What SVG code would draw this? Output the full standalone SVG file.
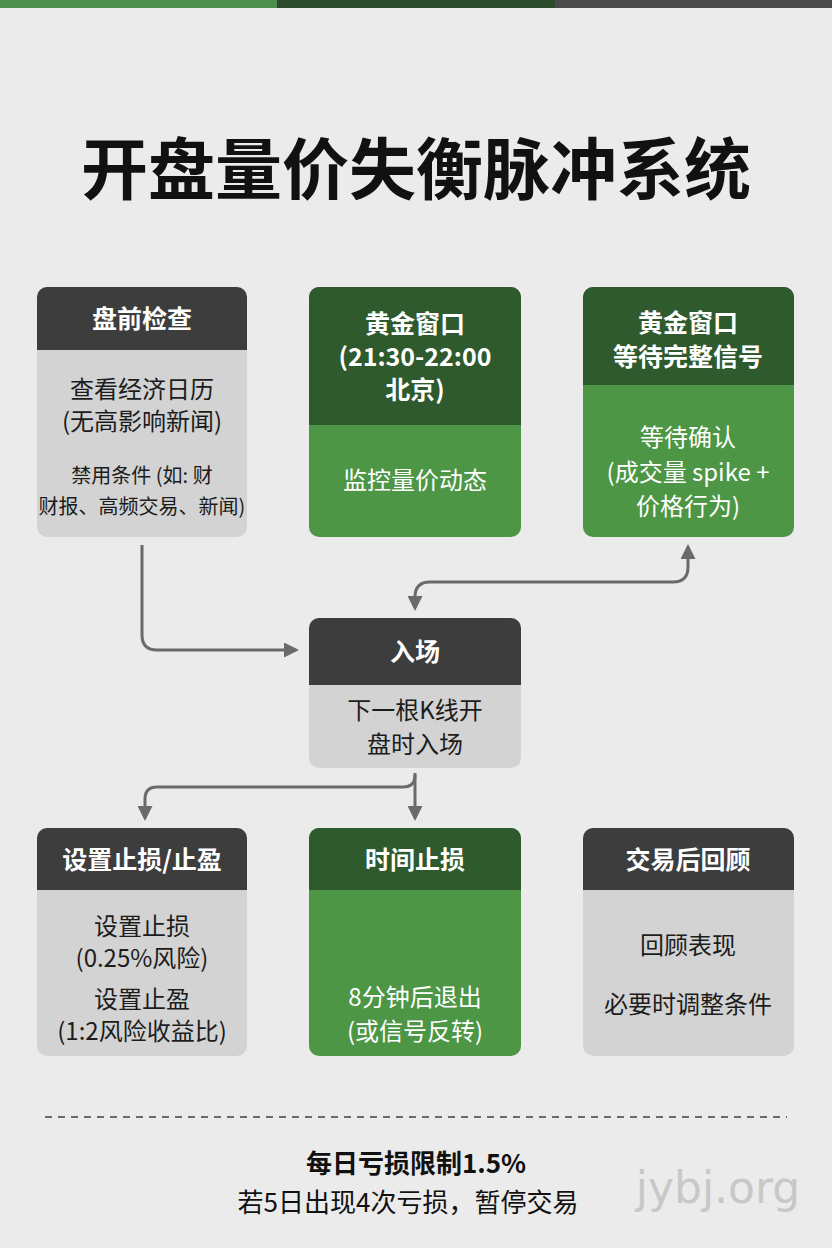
<svg xmlns="http://www.w3.org/2000/svg" width="832" height="1248" viewBox="0 0 832 1248">
<defs>
<marker id="ah" viewBox="0 0 10 10" refX="8" refY="5" markerWidth="5" markerHeight="5" orient="auto-start-reverse"><path d="M0,0 L10,5 L0,10 z" fill="#6a6a6a"/></marker>
<style>
text{font-family:"Noto Sans CJK SC","Noto Sans",sans-serif;text-anchor:middle}
.h{fill:#fff;font-size:25px;font-weight:bold}
.b{fill:#1c1c1c;font-size:24px}
.bw{fill:#fff;font-size:24px}
.c{fill:none;stroke:#6a6a6a;stroke-width:3}
</style>
</defs>
<rect width="832" height="1248" fill="#ebebeb"/>
<rect x="0" y="0" width="277" height="8" fill="#4c8f4c"/>
<rect x="277" y="0" width="278" height="8" fill="#2c4a2c"/>
<rect x="555" y="0" width="277" height="8" fill="#4a4a4a"/>
<text x="416" y="194" style="font-size:67px;font-weight:bold;fill:#111">开盘量价失衡脉冲系统</text>

<g id="n1">
<rect x="37" y="287" width="210" height="250" rx="10" fill="#d3d3d3"/>
<path d="M37,350 V297 a10,10 0 0 1 10,-10 H237 a10,10 0 0 1 10,10 V350 z" fill="#3d3d3d"/>
<text class="h" x="142" y="328">盘前检查</text>
<text class="b" x="142" y="398">查看经济日历</text>
<text class="b" x="142" y="430">(无高影响新闻)</text>
<text class="b" x="142" y="483" style="font-size:20px">禁用条件 (如: 财</text>
<text class="b" x="142" y="514" style="font-size:20px">财报、高频交易、新闻)</text>
</g>
<g id="n2">
<rect x="309" y="287" width="212" height="250" rx="10" fill="#4c9645"/>
<path d="M309,425 V297 a10,10 0 0 1 10,-10 H511 a10,10 0 0 1 10,10 V425 z" fill="#2e5a2e"/>
<text class="h" x="415" y="333">黄金窗口</text>
<text class="h" x="415" y="366">(21:30-22:00</text>
<text class="h" x="415" y="399">北京)</text>
<text class="bw" x="415" y="489">监控量价动态</text>
</g>
<g id="n3">
<rect x="583" y="287" width="211" height="250" rx="10" fill="#4c9645"/>
<path d="M583,385 V297 a10,10 0 0 1 10,-10 H784 a10,10 0 0 1 10,10 V385 z" fill="#2e5a2e"/>
<text class="h" x="688" y="332">黄金窗口</text>
<text class="h" x="688" y="366">等待完整信号</text>
<text class="bw" x="688" y="446">等待确认</text>
<text class="bw" x="688" y="481">(成交量 spike +</text>
<text class="bw" x="688" y="515">价格行为)</text>
</g>
<g id="n4">
<rect x="309" y="618" width="212" height="150" rx="10" fill="#d3d3d3"/>
<path d="M309,685 V628 a10,10 0 0 1 10,-10 H511 a10,10 0 0 1 10,10 V685 z" fill="#3d3d3d"/>
<text class="h" x="415" y="661">入场</text>
<text class="b" x="415" y="719">下一根K线开</text>
<text class="b" x="415" y="753">盘时入场</text>
</g>
<g id="n5">
<rect x="37" y="828" width="210" height="228" rx="10" fill="#d3d3d3"/>
<path d="M37,890 V838 a10,10 0 0 1 10,-10 H237 a10,10 0 0 1 10,10 V890 z" fill="#3d3d3d"/>
<text class="h" x="142" y="869">设置止损/止盈</text>
<text class="b" x="142" y="935">设置止损</text>
<text class="b" x="142" y="967">(0.25%风险)</text>
<text class="b" x="142" y="1008">设置止盈</text>
<text class="b" x="142" y="1040">(1:2风险收益比)</text>
</g>
<g id="n6">
<rect x="309" y="828" width="212" height="228" rx="10" fill="#4c9645"/>
<path d="M309,890 V838 a10,10 0 0 1 10,-10 H511 a10,10 0 0 1 10,10 V890 z" fill="#2e5a2e"/>
<text class="h" x="415" y="869">时间止损</text>
<text class="bw" x="415" y="1006">8分钟后退出</text>
<text class="bw" x="415" y="1040">(或信号反转)</text>
</g>
<g id="n7">
<rect x="583" y="828" width="211" height="228" rx="10" fill="#d3d3d3"/>
<path d="M583,890 V838 a10,10 0 0 1 10,-10 H784 a10,10 0 0 1 10,10 V890 z" fill="#3d3d3d"/>
<text class="h" x="688" y="869">交易后回顾</text>
<text class="b" x="688" y="954">回顾表现</text>
<text class="b" x="688" y="1013">必要时调整条件</text>
</g>
<g id="connectors">
<path class="c" d="M142,545 V635 q0,15 15,15 H296" marker-end="url(#ah)"/>
<path class="c" d="M415,608 V597 q0,-15 15,-15 H673 q15,0 15,-15 V547" marker-start="url(#ah)" marker-end="url(#ah)"/>
<path class="c" d="M415,773 V818" marker-end="url(#ah)"/>
<path class="c" d="M415,775 q0,12 -12,12 H157 q-12,0 -12,12 V818" marker-end="url(#ah)"/>
</g>
<line x1="45" y1="1117" x2="787" y2="1117" stroke="#6a6a6a" stroke-width="2" stroke-dasharray="7,6"/>
<text x="416" y="1173" style="font-size:26px;font-weight:bold;fill:#111">每日亏损限制1.5%</text>
<text x="408" y="1212" style="font-size:26px;fill:#111">若5日出现4次亏损，暂停交易</text>
<text x="718" y="1203" style="font-size:44px;fill:#c8c8c8;font-family:'DejaVu Sans',sans-serif">jybj.org</text>
</svg>
